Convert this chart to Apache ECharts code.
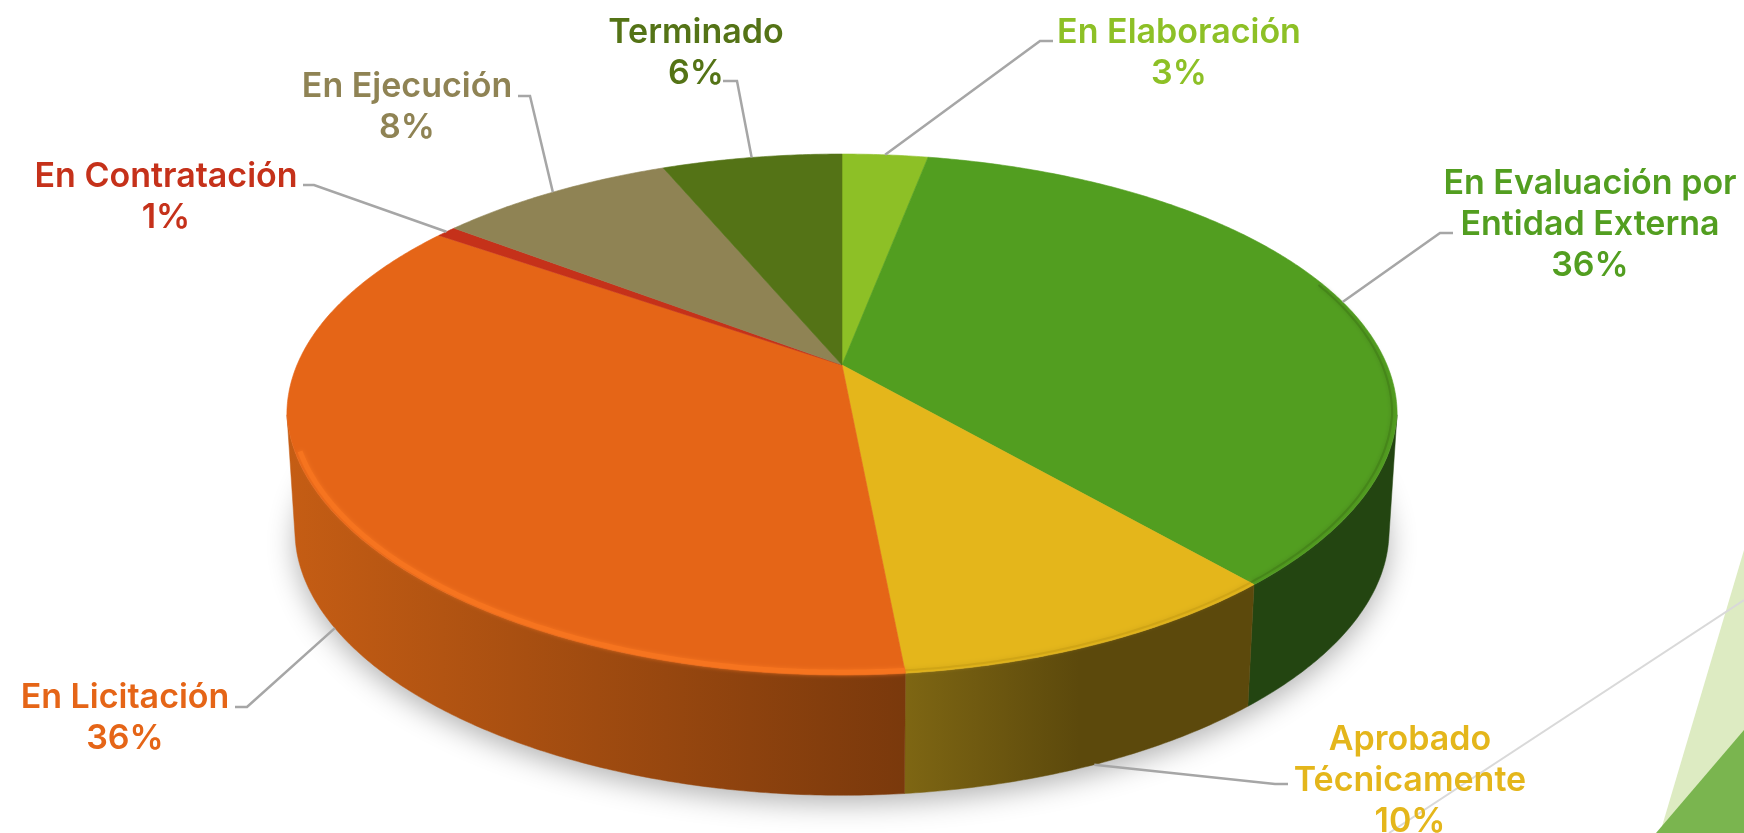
<!DOCTYPE html>
<html>
<head>
<meta charset="utf-8">
<script src="https://cdn.jsdelivr.net/npm/echarts@6/dist/echarts.min.js"></script>
<style>html,body{margin:0;padding:0;background:#fff}#c{width:1744px;height:833px}</style>
</head>
<body>
<div id="c"></div>
<script>
// ---- data (angles imply the unrounded shares; labels show them rounded)
const categories = ['En Elaboración', 'En Evaluación por\nEntidad Externa', 'Aprobado\nTécnicamente', 'En Licitación', 'En Contratación', 'En Ejecución', 'Terminado'];
const values = [3.0, 35.5, 9.95, 36.25, 0.7, 8.3, 6.3];

// ---- styles
const topColors = ['#8DC026', '#529E20', '#E4B61B', '#E56517', '#C5311A', '#8F8354', '#547316'];
const textColors = ['#8DC026', '#529E20', '#E4B61B', '#E56517', '#C5311A', '#8F8354', '#547316'];
const sideStops = [
  null,
  ['#234511', '#234511'],
  ['#7E6613', '#5C490C'],
  ['#C55D14', '#7A390C'],
  null, null, null
];
const rimColors = [null, '#46861A', '#D0A516', '#F6741F', null, null, null];
const rimWidths = [0, 2, 2, 5, 0, 0, 0];

// ---- layout: perspective of the disc, label anchors and leader elbows
const APEX = { x: 842, y: 365 };
const R = 545, PERSP = 0.19, YA = -181.7, DEPTH = 125, BOTTOM_SCALE = 0.985;
const FRONT_SQUEEZE = 0.03, MID_Y = 414, RY = 260;
const SIDE_FROM = 101, SIDE_TO = 259;
const RIM_END = 251, RIM_INSET = 0.009;
const labelAnchors = [[1179, 53], [1590, 225], [1410, 781], [125, 718], [166, 197], [407, 107], [696, 53]];
const labelElbows = [
  [[1053, 41], [1040, 41]],
  [[1453, 233], [1440, 233]],
  [[1288, 784], [1275, 784]],
  [[235, 707], [247, 707]],
  [[303, 185], [314, 185]],
  [[518, 96], [530, 96]],
  [[723, 81], [737, 81]]
];
const FONT = '600 34px Inter, sans-serif';
const LINE = 41;

const total = values.reduce((a, b) => a + b, 0);
const cum = [];
values.reduce((acc, v, i) => { cum[i] = acc; return acc + v; }, 0);
const angleOf = p => p / total * 360;

function topPt(deg) {
  const t = deg * Math.PI / 180, u = Math.sin(t), v = Math.cos(t), d = 1 + PERSP * v;
  const y = (YA * v + APEX.y) / d;
  const squeeze = 1 - FRONT_SQUEEZE * Math.max(0, (y - MID_Y) / RY);
  return [APEX.x + R * u / d * squeeze, y];
}
function botPt(deg) {
  const p = topPt(deg);
  return [APEX.x + BOTTOM_SCALE * (p[0] - APEX.x), APEX.y + DEPTH + BOTTOM_SCALE * (p[1] - APEX.y)];
}
function inset(p, k) {
  return [APEX.x + k * (p[0] - APEX.x), APEX.y + k * (p[1] - APEX.y)];
}
function arc(fn, a, b) {
  const out = [], n = Math.max(2, Math.ceil(Math.abs(b - a) * 2));
  for (let i = 0; i <= n; i++) out.push(fn(a + (b - a) * i / n));
  return out;
}

function renderSide(params, api) {
  const i = params.dataIndex, children = [];
  if (i === 0) {
    children.push({
      type: 'polygon', shape: { points: arc(botPt, 0, 360) },
      style: { fill: '#dddddd', shadowBlur: 28, shadowColor: 'rgba(0,0,0,0.3)', shadowOffsetY: 8 }
    });
  }
  const a = Math.max(angleOf(cum[i]), SIDE_FROM);
  const b = Math.min(angleOf(cum[i] + api.value(0)), SIDE_TO);
  if (b > a && sideStops[i]) {
    const L = arc(topPt, a, b), Bt = arc(botPt, b, a);
    const xs = L.concat(Bt).map(p => p[0]);
    const fill = {
      type: 'linear', global: true,
      x: Math.min.apply(null, xs), y: 0, x2: Math.max.apply(null, xs), y2: 0,
      colorStops: i === 3
        ? [{ offset: 0, color: sideStops[i][0] }, { offset: 1, color: sideStops[i][1] }]
        : [{ offset: 0, color: sideStops[i][0] }, { offset: 0.5, color: sideStops[i][1] }, { offset: 1, color: sideStops[i][1] }]
    };
    children.push({ type: 'polygon', shape: { points: L.concat(Bt) }, style: { fill: fill, stroke: fill, lineWidth: 0.5 } });
  }
  return { type: 'group', children: children };
}

function renderTop(params, api) {
  const i = params.dataIndex;
  const a = angleOf(cum[i]), b = angleOf(cum[i] + api.value(0));
  const pts = [[APEX.x, APEX.y]].concat(arc(topPt, a, b));
  const children = [{ type: 'polygon', shape: { points: pts }, style: { fill: topColors[i], stroke: topColors[i], lineWidth: 0.6 } }];
  if (rimColors[i]) {
    const ra = i === 1 ? 70 : a, rb = Math.min(b, RIM_END);
    children.push({
      type: 'polyline',
      shape: { points: arc(d => inset(topPt(d), 1 - RIM_INSET), ra, rb) },
      style: { fill: null, stroke: rimColors[i], lineWidth: rimWidths[i], shadowBlur: 4, shadowColor: rimColors[i] }
    });
  }
  return { type: 'group', children: children };
}

function renderLabel(params, api) {
  const i = params.dataIndex, v = api.value(0);
  const mid = angleOf(cum[i] + v / 2);
  const front = mid > SIDE_FROM && mid < SIDE_TO;
  const start = front ? botPt(mid) : topPt(mid);
  const e = labelElbows[i];
  const pct = Math.round(v / total * 100) + '%';
  return {
    type: 'group',
    children: [
      { type: 'polyline', shape: { points: [e[0], e[1], start] }, style: { fill: null, stroke: '#A6A6A6', lineWidth: 2.5 } },
      {
        type: 'text', style: {
          text: categories[i] + '\n' + pct, x: labelAnchors[i][0], y: labelAnchors[i][1],
          fill: textColors[i], font: FONT, lineHeight: LINE, align: 'center', verticalAlign: 'middle'
        }
      }
    ]
  };
}

const seriesData = values.map(v => [v]);
const chart = echarts.init(document.getElementById('c'), null, { renderer: 'canvas' });
chart.setOption({
  animation: false,
  backgroundColor: '#ffffff',
  graphic: [
    { type: 'polygon', z: 0, silent: true, shape: { points: [[1744, 550], [1744, 833], [1660, 833]] }, style: { fill: '#DDEBC2' } },
    { type: 'polygon', z: 0, silent: true, shape: { points: [[1744, 730], [1744, 833], [1656, 833]] }, style: { fill: '#7AB54F' } },
    { type: 'line', z: 0, silent: true, shape: { x1: 1744, y1: 600, x2: 1389, y2: 833 }, style: { stroke: '#D9D9D9', lineWidth: 2 } }
  ],
  series: [
    { type: 'custom', coordinateSystem: 'none', z: 2, silent: true, data: seriesData, renderItem: renderSide },
    { type: 'custom', coordinateSystem: 'none', z: 3, silent: true, data: seriesData, renderItem: renderTop },
    { type: 'custom', coordinateSystem: 'none', z: 4, silent: true, data: seriesData, renderItem: renderLabel }
  ]
});
</script>
</body>
</html>
